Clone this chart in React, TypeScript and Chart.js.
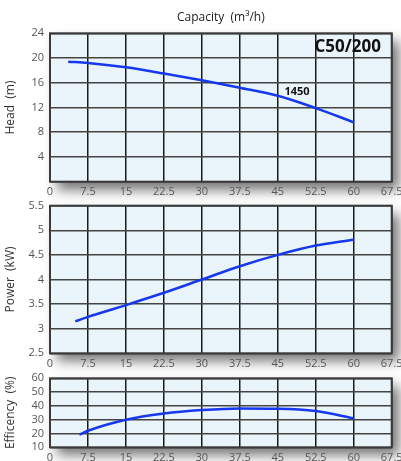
import React, { useEffect, useRef } from "react";
import { Chart, registerables } from "chart.js";

Chart.register(...registerables);

const capacityTicks = [0, 7.5, 15, 22.5, 30, 37.5, 45, 52.5, 60, 67.5];

const headX = [3.6, 7.5, 15, 22.5, 30, 37.5, 45, 52.5, 60];
const headY = [19.4, 19.2, 18.5, 17.5, 16.4, 15.2, 13.9, 11.9, 9.6];

const powerX = [5, 7.5, 15, 22.5, 30, 37.5, 45, 52.5, 60];
const powerY = [3.15, 3.24, 3.48, 3.73, 4.0, 4.27, 4.5, 4.69, 4.81];

const effX = [5.8, 7.5, 15, 22.5, 30, 37.5, 45, 52.5, 60];
const effY = [19.2, 22.0, 30.0, 34.5, 37.0, 38.2, 38.0, 36.3, 31.0];

const headTicks = [0, 4, 8, 12, 16, 20, 24];
const powerTicks = [2.5, 3, 3.5, 4, 4.5, 5, 5.5];
const effTicks = [10, 20, 30, 40, 50, 60];

const modelLabel = "C50/200";
const modelPos = { x: 58.8, y: 21.8 };
const speedLabel = "1450";
const speedPos = { x: 48.8, y: 14.6 };

const W = 401;
const H = 461;
const PLOT_LEFT = 50;
const PLOT_RIGHT = 391.7;
const XH = 20;
const FONT = "'Open Sans', sans-serif";
const LINE = "#1638f0";

const plotDeco = {
  id: "plotDeco",
  beforeDraw(chart: any) {
    const { ctx, chartArea: a } = chart;
    ctx.save();
    ctx.shadowColor = "rgba(0,0,0,0.55)";
    ctx.shadowBlur = 12;
    ctx.shadowOffsetX = 7;
    ctx.shadowOffsetY = 8;
    ctx.fillStyle = "#eaf4fb";
    ctx.fillRect(a.left, a.top, a.right - a.left, a.bottom - a.top);
    ctx.restore();
  },
  afterDraw(chart: any) {
    const { ctx, chartArea: a } = chart;
    const o = chart.options.plugins.plotDeco || {};
    ctx.save();
    ctx.strokeStyle = "#3a3a3a";
    ctx.lineWidth = 2;
    ctx.strokeRect(a.left, a.top, a.right - a.left, a.bottom - a.top);
    ctx.textAlign = "center";
    ctx.textBaseline = "middle";
    if (o.title) {
      ctx.font = `12px ${FONT}`;
      ctx.fillStyle = "#222";
      ctx.fillText(o.title, (a.left + a.right) / 2, 18);
    }
    const xs = chart.scales.x;
    const ys = chart.scales.y;
    (o.texts || []).forEach((t: any) => {
      ctx.font = t.font;
      ctx.fillStyle = "#111";
      ctx.fillText(t.text, xs.getPixelForValue(t.x), ys.getPixelForValue(t.y));
    });
    ctx.restore();
  },
};

function makeConfig(
  xs: number[],
  ys: number[],
  yTicks: number[],
  title: string,
  top: number,
  bottom: number,
  deco: any
) {
  const yMin = yTicks[0];
  const yMax = yTicks[yTicks.length - 1];
  return {
    type: "line",
    data: {
      datasets: [
        {
          data: xs.map((x, i) => ({ x, y: ys[i] })),
          borderColor: LINE,
          borderWidth: 2.5,
          pointRadius: 0,
          cubicInterpolationMode: "monotone",
          fill: false,
        },
      ],
    },
    options: {
      animation: false,
      responsive: false,
      maintainAspectRatio: false,
      events: [],
      layout: {
        padding: {
          top,
          bottom: H - bottom - XH,
          left: 0,
          right: W - PLOT_RIGHT,
        },
      },
      plugins: {
        legend: { display: false },
        tooltip: { enabled: false },
        plotDeco: deco,
      },
      scales: {
        x: {
          type: "linear",
          min: capacityTicks[0],
          max: capacityTicks[capacityTicks.length - 1],
          afterBuildTicks(s: any) {
            s.ticks = capacityTicks.map((v) => ({ value: v }));
          },
          afterFit(s: any) {
            s.height = XH;
            s.paddingLeft = 0;
            s.paddingRight = 0;
          },
          border: { display: false },
          grid: { color: "#1a1a1a", lineWidth: 1.5, drawTicks: false },
          ticks: {
            padding: 4,
            color: "#555",
            font: { family: FONT, size: 11 },
            maxRotation: 0,
            autoSkip: false,
            callback: (v: any) => String(v),
          },
        },
        y: {
          type: "linear",
          min: yMin,
          max: yMax,
          afterBuildTicks(s: any) {
            s.ticks = yTicks.map((v) => ({ value: v }));
          },
          afterFit(s: any) {
            s.width = PLOT_LEFT;
            s.paddingTop = 0;
            s.paddingBottom = 0;
          },
          border: { display: false },
          grid: { color: "#444", lineWidth: 1.5, drawTicks: false },
          title: {
            display: true,
            text: title,
            color: "#333",
            font: { family: FONT, size: 12 },
            padding: { top: 3, bottom: 0 },
          },
          ticks: {
            padding: 6,
            color: "#555",
            font: { family: FONT, size: 11 },
            autoSkip: false,
            callback: (v: any) => (v === yMin && yMin === 0 ? "" : String(v)),
          },
        },
      },
    },
    plugins: [plotDeco],
  } as any;
}

export default function App() {
  const r1 = useRef<HTMLCanvasElement>(null);
  const r2 = useRef<HTMLCanvasElement>(null);
  const r3 = useRef<HTMLCanvasElement>(null);

  useEffect(() => {
    const c1 = new Chart(
      r1.current!,
      makeConfig(headX, headY, headTicks, "Head  (m)", 33.3, 181.7, {
        title: "Capacity  (m³/h)",
        texts: [
          { text: modelLabel, x: modelPos.x, y: modelPos.y, font: `bold 17px ${FONT}` },
          { text: speedLabel, x: speedPos.x, y: speedPos.y, font: `bold 11px ${FONT}` },
        ],
      })
    );
    const c2 = new Chart(
      r2.current!,
      makeConfig(powerX, powerY, powerTicks, "Power  (kW)", 205.7, 353.3, {})
    );
    const c3 = new Chart(
      r3.current!,
      makeConfig(effX, effY, effTicks, "Efficency  (%)", 378.3, 447.3, {})
    );
    return () => {
      c1.destroy();
      c2.destroy();
      c3.destroy();
    };
  }, []);

  const st: React.CSSProperties = { position: "absolute", left: 0, top: 0 };
  return (
    <div style={{ position: "fixed", left: 0, top: 0, width: W, height: H, background: "#fff" }}>
      <canvas ref={r1} width={W} height={H} style={st} />
      <canvas ref={r2} width={W} height={H} style={st} />
      <canvas ref={r3} width={W} height={H} style={st} />
    </div>
  );
}
